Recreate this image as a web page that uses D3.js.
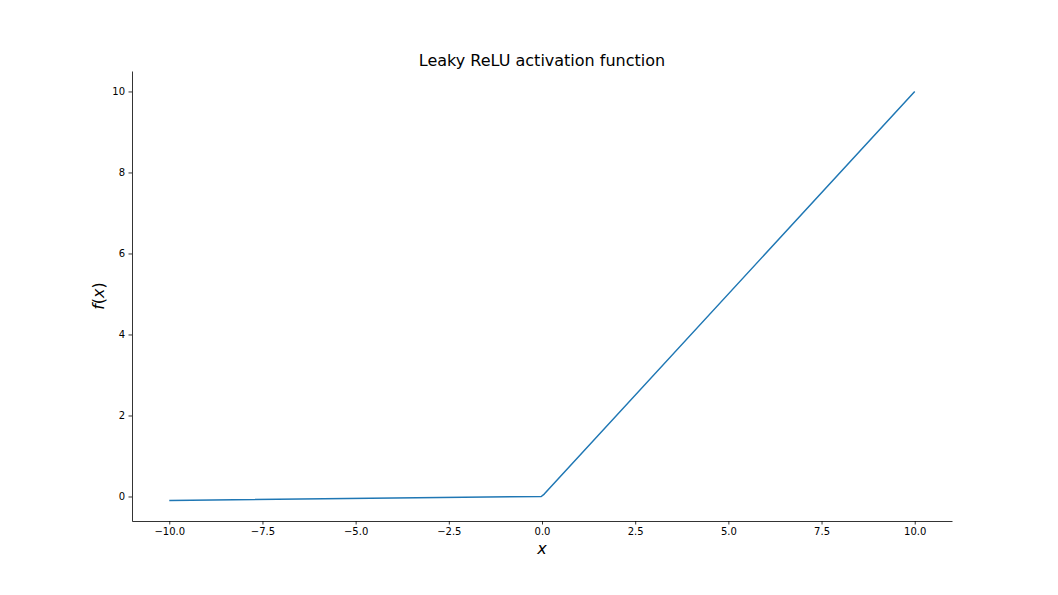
<!DOCTYPE html>
<html>
<head>
<meta charset="utf-8">
<script src="https://cdn.jsdelivr.net/npm/d3@7"></script>
<style>
  body { margin: 0; background: #fff; }
  svg { font-family: "DejaVu Sans", sans-serif; }
</style>
</head>
<body>
<svg></svg>
<script>
// points
var xValues = [-10, -0.02, 0.06, 10];
var yValues = [-0.1, 0, 0.06, 10];
var xTicks = [-10, -7.5, -5, -2.5, 0, 2.5, 5, 7.5, 10];
var yTicks = [0, 2, 4, 6, 8, 10];

var drawChart = function()
{
  var width = 1058;
  var height = 595;
  var left = 132, right = 952, top = 71, bottom = 521;

  var svg = d3.select("svg")
              .attr("width", width)
              .attr("height", height);

  var x = d3.scaleLinear().domain([-11, 11]).range([left, right]);
  var y = d3.scaleLinear().domain([-0.605, 10.505]).range([bottom, top]);

  var fmtX = function(d) { return d3.format(".1f")(d).replace("-", "\u2212"); };

  var xAxis = svg.append("g")
     .attr("transform", "translate(0," + bottom + ")")
     .call(d3.axisBottom(x).tickValues(xTicks).tickFormat(fmtX).tickSize(3.5).tickPadding(3.5).tickSizeOuter(0));

  var yAxis = svg.append("g")
     .attr("transform", "translate(" + left + ",0)")
     .call(d3.axisLeft(y).tickValues(yTicks).tickFormat(d3.format("d")).tickSize(3.5).tickPadding(3.5).tickSizeOuter(0));

  [xAxis, yAxis].forEach(function(a)
  {
    a.selectAll("text").attr("font-size", 10).attr("fill", "#000").attr("font-family", "DejaVu Sans");
    a.selectAll("line").attr("stroke", "#000").attr("stroke-width", 0.8);
    a.select(".domain").attr("stroke", "#000").attr("stroke-width", 0.8);
  });

  var points = xValues.map(function(d, i) { return [d, yValues[i]]; });

  svg.append("path")
     .datum(points)
     .attr("fill", "none")
     .attr("stroke", "#1f77b4")
     .attr("stroke-width", 1.5)
     .attr("stroke-linejoin", "round")
     .attr("d", d3.line().x(function(d) { return x(d[0]); }).y(function(d) { return y(d[1]); }));

  svg.append("text")
     .attr("x", (left + right) / 2)
     .attr("y", 66)
     .attr("text-anchor", "middle")
     .attr("font-size", 16)
     .text("Leaky ReLU activation function");

  svg.append("text")
     .attr("x", (left + right) / 2)
     .attr("y", 554)
     .attr("text-anchor", "middle")
     .attr("font-size", 16)
     .attr("font-style", "italic")
     .text("x");

  svg.append("text")
     .attr("transform", "translate(104," + ((top + bottom) / 2) + ") rotate(-90)")
     .attr("text-anchor", "middle")
     .attr("font-size", 16)
     .html("<tspan font-style='italic'>f</tspan>(<tspan font-style='italic'>x</tspan>)");
};

drawChart();
</script>
</body>
</html>
